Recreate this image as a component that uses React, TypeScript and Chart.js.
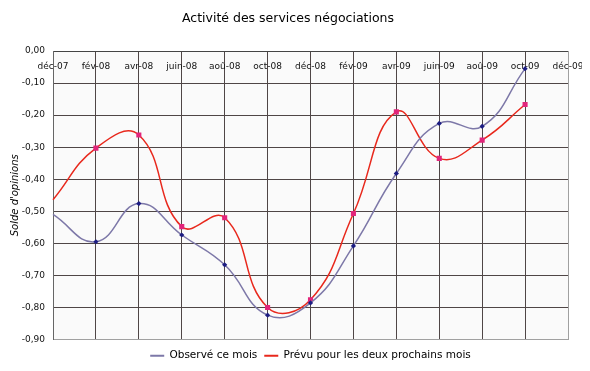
import React, { useEffect, useRef } from "react";
import { Chart, registerables } from "chart.js";

Chart.register(...registerables);

const TITLE = "Activité des services négociations";
const Y_TITLE = "Solde d'opinions";
const MONTHS = ["déc-07", "fév-08", "avr-08", "juin-08", "aoû-08", "oct-08", "déc-08", "fév-09", "avr-09", "juin-09", "aoû-09", "oct-09", "déc-09"];
const SERIES_NAMES = ["Observé ce mois", "Prévu pour les deux prochains mois"];
const OBSERVED = [-0.51, -0.595, -0.476, -0.574, -0.667, -0.824, -0.786, -0.608, -0.382, -0.226, -0.235, -0.055];
const FORECAST = [-0.464, -0.303, -0.262, -0.548, -0.52, -0.80, -0.776, -0.507, -0.19, -0.335, -0.278, -0.167];
const Y_MIN = -0.9;
const Y_MAX = 0;
const Y_STEP = 0.1;

const FONT = "'DejaVu Sans', Verdana, sans-serif";
const GRID = "#4f4646";

const bgPlugin = {
  id: "plotBg",
  beforeDraw(chart: any) {
    const { ctx, chartArea } = chart;
    if (!chartArea) return;
    ctx.save();
    ctx.fillStyle = "#fafafa";
    ctx.fillRect(chartArea.left, chartArea.top, chartArea.right - chartArea.left, chartArea.bottom - chartArea.top);
    ctx.restore();
  },
};

export default function App() {
  const ref = useRef<HTMLCanvasElement | null>(null);
  useEffect(() => {
    if (!ref.current) return;
    const lastIdx = MONTHS.length - 1;
    const chart = new Chart(ref.current, {
      type: "line",
      data: {
        labels: MONTHS,
        datasets: [
          {
            label: SERIES_NAMES[0],
            data: OBSERVED,
            borderColor: "#7d78a8",
            backgroundColor: "#7d78a8",
            borderWidth: 1.5,
            pointStyle: "rectRot",
            pointRadius: (c: any) => (c.dataIndex === 0 ? 0 : 2.6),
            pointBackgroundColor: "#1c1c82",
            pointBorderColor: "#1c1c82",
            pointBorderWidth: 0,
            tension: 0.45,
          },
          {
            label: SERIES_NAMES[1],
            data: FORECAST,
            borderColor: "#e8281c",
            backgroundColor: "#e8281c",
            borderWidth: 1.5,
            pointStyle: "rect",
            pointRadius: (c: any) => (c.dataIndex === 0 ? 0 : 3.6),
            pointBackgroundColor: "#e2257a",
            pointBorderColor: "#e2257a",
            pointBorderWidth: 0,
            tension: 0.45,
          },
        ],
      },
      options: {
        animation: false,
        responsive: false,
        layout: { padding: { left: 0, right: 14, top: 0, bottom: -8 } },
        scales: {
          x: {
            type: "category",
            position: "top",
            offset: false,
            afterFit: (s: any) => {
              s.height = 0;
              s.paddingLeft = 0;
              s.paddingRight = 0;
            },
            grid: {
              color: (c: any) => (c.index === lastIdx ? "rgba(0,0,0,0)" : GRID),
              lineWidth: 1,
              drawTicks: false,
            },
            border: { display: true, color: "#444", width: 1 },
            ticks: {
              mirror: true,
              padding: 10,
              autoSkip: false,
              maxRotation: 0,
              color: "#111",
              font: { family: FONT, size: 9 },
            },
          },
          x2: {
            type: "category",
            position: "bottom",
            offset: false,
            afterFit: (s: any) => {
              s.height = 4;
              s.paddingLeft = 0;
              s.paddingRight = 0;
            },
            grid: { display: false, drawTicks: false },
            border: { display: true, color: "#a0a0a0", width: 1, dash: [2, 2] },
            ticks: { display: false },
          },
          y: {
            min: Y_MIN,
            max: Y_MAX,
            afterFit: (s: any) => {
              s.width = 45;
            },
            grid: {
              color: (c: any) => (c.tick && Math.abs(c.tick.value - Y_MIN) < 1e-6 ? "rgba(0,0,0,0)" : GRID),
              lineWidth: 1,
              drawTicks: false,
            },
            border: { display: true, color: "#666", width: 1 },
            ticks: {
              stepSize: Y_STEP,
              padding: 8,
              color: "#111",
              font: { family: FONT, size: 9 },
              callback: (v: any) => {
                const n = Math.abs(Number(v)) < 1e-9 ? 0 : Number(v);
                return n.toFixed(2).replace(".", ",");
              },
            },
            title: {
              display: true,
              text: Y_TITLE,
              color: "#000",
              padding: { top: 1, bottom: 0 },
              font: { family: FONT, size: 10, style: "italic" },
            },
          },
          y2: {
            position: "right",
            min: Y_MIN,
            max: Y_MAX,
            afterFit: (s: any) => {
              s.width = 0;
            },
            grid: { display: false, drawTicks: false },
            border: { display: true, color: "#a0a0a0", width: 1, dash: [2, 2] },
            ticks: { display: false },
          },
        },
        plugins: {
          title: {
            display: true,
            text: TITLE,
            color: "#000",
            font: { family: FONT, size: 12.5, weight: "normal" },
            padding: { top: 3.5, bottom: 24.5 },
          },
          legend: {
            position: "bottom",
            fullSize: false,
            labels: {
              boxWidth: 14,
              boxHeight: 2,
              padding: 7,
              color: "#000",
              font: { family: FONT, size: 10.5 },
              generateLabels: (ch: any) =>
                Chart.defaults.plugins.legend.labels
                  .generateLabels(ch)
                  .map((l: any) => ({ ...l, lineWidth: 0, fillStyle: l.strokeStyle })),
            },
          },
          tooltip: { enabled: false },
        },
      },
      plugins: [bgPlugin],
    } as any);
    return () => chart.destroy();
  }, []);
  return <canvas ref={ref} width={574} height={355} style={{ display: "block" }} />;
}
